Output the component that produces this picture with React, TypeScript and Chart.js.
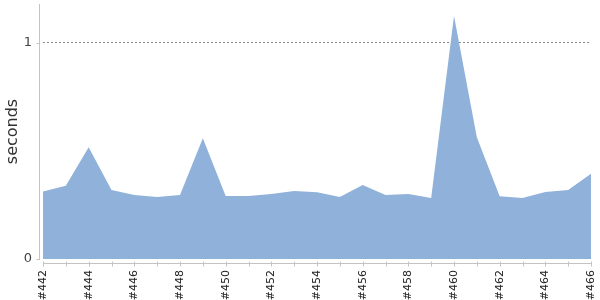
import React, { useEffect, useRef } from "react";
import { Chart, registerables } from "chart.js";

Chart.register(...registerables);

const builds = ["#442","#443","#444","#445","#446","#447","#448","#449","#450","#451","#452","#453","#454","#455","#456","#457","#458","#459","#460","#461","#462","#463","#464","#465","#466"];
const seconds = [0.312,0.339,0.517,0.319,0.296,0.287,0.296,0.559,0.292,0.292,0.301,0.315,0.309,0.287,0.343,0.296,0.301,0.282,1.125,0.563,0.290,0.282,0.310,0.319,0.394];
const yTicks = [0, 1];
const yMax = 1.18;

const axisPlugin = {
  id: "axisLines",
  afterDraw(chart: any) {
    const { ctx, chartArea } = chart;
    const xs = chart.scales.x;
    const ys = chart.scales.y;
    ctx.save();
    ctx.strokeStyle = "#c4c4c4";
    ctx.lineWidth = 1;
    const ax = Math.round(chartArea.left - 4) + 0.5;
    const ay = Math.round(chartArea.bottom + 4) + 0.5;
    ctx.beginPath();
    ctx.moveTo(ax, Math.round(chartArea.top));
    ctx.lineTo(ax, Math.round(chartArea.bottom) + 1);
    yTicks.forEach((v) => {
      const py = Math.round(ys.getPixelForValue(v)) + 0.5;
      ctx.moveTo(ax - 3, py);
      ctx.lineTo(ax, py);
    });
    ctx.moveTo(Math.round(chartArea.left), ay);
    ctx.lineTo(Math.round(chartArea.right) + 1, ay);
    for (let i = 0; i < builds.length; i++) {
      const px = Math.round(xs.getPixelForTick(i)) + 0.5;
      ctx.moveTo(px, ay - 2);
      ctx.lineTo(px, ay + 3);
    }
    ctx.stroke();
    ctx.restore();
  },
};

export default function App() {
  const ref = useRef<HTMLCanvasElement>(null);
  useEffect(() => {
    document.body.style.margin = "0";
    const chart = new Chart(ref.current!, {
      type: "line",
      data: {
        labels: builds,
        datasets: [
          {
            data: seconds,
            fill: "origin",
            backgroundColor: "rgb(143,177,218)",
            borderColor: "rgb(143,177,218)",
            borderWidth: 0,
            pointRadius: 0,
            tension: 0,
          },
        ],
      },
      options: {
        animation: false,
        responsive: false,
        maintainAspectRatio: false,
        layout: { padding: { top: 4, right: 9, left: 0, bottom: 0 } },
        plugins: { legend: { display: false }, tooltip: { enabled: false } },
        scales: {
          x: {
            offset: false,
            grid: { display: false, drawTicks: false },
            border: { display: false },
            afterFit: (s: any) => {
              s.height = 41;
              s.paddingLeft = 0;
              s.paddingRight = 0;
            },
            ticks: {
              autoSkip: false,
              minRotation: 90,
              maxRotation: 90,
              padding: 11,
              color: "#222",
              font: { family: "DejaVu Sans", size: 11 },
              callback: (_v: any, i: number) => (i % 2 === 0 ? builds[i] : ""),
            },
          },
          y: {
            min: 0,
            max: yMax,
            afterBuildTicks: (s: any) => { s.ticks = yTicks.map((v) => ({ value: v })); },
            afterFit: (s: any) => {
              s.width = 43;
              s.paddingTop = 0;
              s.paddingBottom = 0;
            },
            grid: {
              drawTicks: false,
              color: (c: any) => (c.tick && c.tick.value === 1 ? "#8a8a8a" : "rgba(0,0,0,0)"),
              lineWidth: 1,
            },
            border: { display: false, dash: [2, 2] },
            ticks: {
              padding: 11,
              color: "#444",
              font: { family: "DejaVu Sans", size: 13 },
              callback: (v: any) => String(v),
            },
            title: {
              display: true,
              text: "seconds",
              color: "#333",
              font: { family: "DejaVu Sans", size: 16 },
              padding: { top: 3, bottom: 0 },
            },
          },
        },
      },
      plugins: [axisPlugin],
    });
    return () => chart.destroy();
  }, []);
  return (
    <div style={{ width: 600, height: 300 }}>
      <canvas ref={ref} width={600} height={300} />
    </div>
  );
}
